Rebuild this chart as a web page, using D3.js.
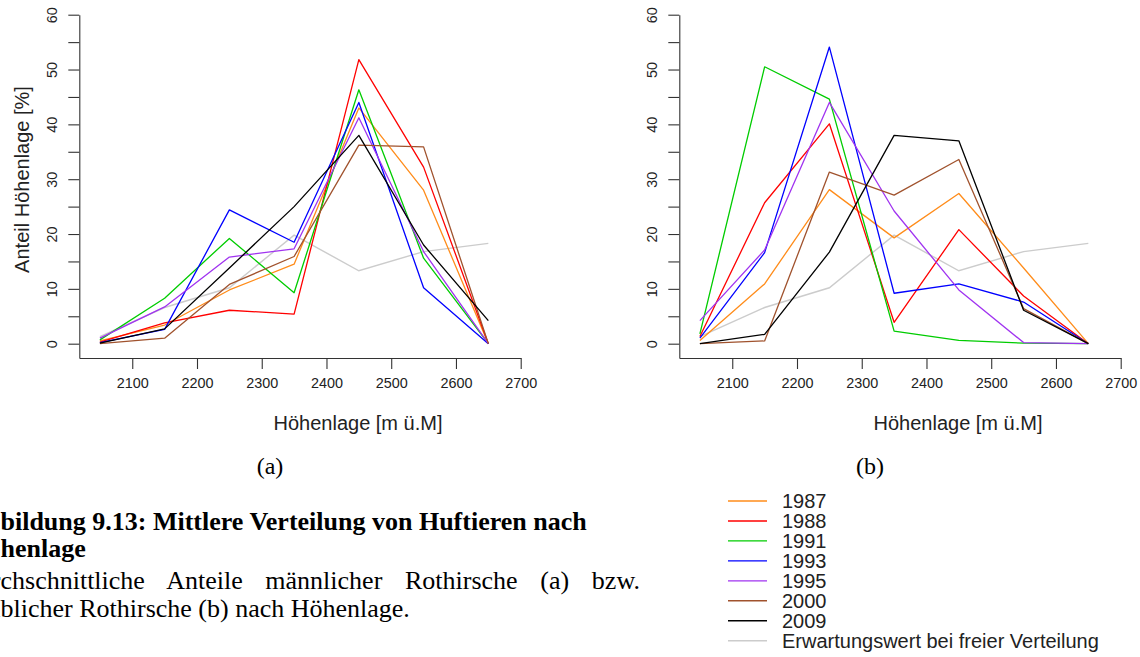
<!DOCTYPE html>
<html>
<head>
<meta charset="utf-8">
<script src="https://cdnjs.cloudflare.com/ajax/libs/d3/7.8.5/d3.min.js"></script>
<style>
body { margin: 0; background: #fff; }
svg text { font-family: "Liberation Sans", Arial, sans-serif; }
</style>
</head>
<body>
<div id="chart"></div>
<script>
// Höhenstufen (Mitte der 100 m Klassen)
var hoehen = [2050, 2150, 2250, 2350, 2450, 2550, 2650]
var jahre = ["1987", "1988", "1991", "1993", "1995", "2000", "2009"]
var farben = ["#ff8c1a", "#ff0000", "#00cc00", "#0000ff", "#a033f0", "#a0522d", "#000000"]
var erwartungFarbe = "#cccccc"
var erwartungLabel = "Erwartungswert bei freier Verteilung"

var xTicks = [2100, 2200, 2300, 2400, 2500, 2600, 2700]
var yTicks = [0, 5, 10, 15, 20, 25, 30, 35, 40, 45, 50, 55, 60]

// (a) männliche Rothirsche, Anteil [%]
var m1987 = [0.5, 3.4, 9.8, 14.5, 43.0, 28.0, 0]
var m1988 = [0.3, 3.8, 6.1, 5.4, 51.8, 32.2, 0]
var m1991 = [0.7, 8.3, 19.2, 9.3, 46.3, 15.6, 0]
var m1993 = [0.2, 2.6, 24.4, 18.5, 44.0, 10.2, 0]
var m1995 = [1.0, 6.7, 15.8, 17.3, 41.2, 16.8, 0]
var m2000 = [0, 1.0, 10.8, 15.9, 36.2, 35.9, 0]
var m2009 = [0.1, 2.7, 13.8, 25.0, 38.0, 18.0, 4.2]

// (b) weibliche Rothirsche, Anteil [%]
var w1987 = [0.6, 10.9, 28.1, 19.3, 27.4, 13.8, 0]
var w1988 = [1.3, 25.7, 40.1, 3.9, 20.8, 8.7, 0]
var w1991 = [1.8, 50.5, 44.6, 2.3, 0.6, 0.1, 0]
var w1993 = [1.0, 16.6, 54.1, 9.2, 10.9, 7.6, 0]
var w1995 = [4.2, 17.1, 44.0, 24.2, 9.8, 0.2, 0]
var w2000 = [0, 0.5, 31.3, 27.1, 33.6, 6.4, 0]
var w2009 = [0, 1.7, 16.7, 38.0, 37.0, 6.1, 0]

// Erwartungswert bei freier Verteilung (gleich in beiden Grafiken)
var erwartung = [1.3, 6.6, 10.2, 19.8, 13.3, 16.8, 18.3]

var maennlich = [m1987, m1988, m1991, m1993, m1995, m2000, m2009]
var weiblich = [w1987, w1988, w1991, w1993, w1995, w2000, w2009]

var caption1 = "Abbildung 9.13: Mittlere Verteilung von Huftieren nach"
var caption2 = "Höhenlage"
var caption3 = "Durchschnittliche Anteile männlicher Rothirsche (a) bzw."
var caption4 = "weiblicher Rothirsche (b) nach Höhenlage."

function init() {
    var w = 1140
    var h = 657

    var svg = d3.select("#chart")
                .append("svg")
                .attr("width", w)
                .attr("height", h)

    panel(svg, 0, "(a)", maennlich, true)
    panel(svg, 600, "(b)", weiblich, false)
    legend(svg)
    caption(svg)

    function panel(svg, dx, tag, reihen, yTitel) {
        var x = d3.scaleLinear().domain([2018.2, 2700]).range([79.3 + dx, 520.7 + dx])
        var y = d3.scaleLinear().domain([-2.61, 60]).range([358, 14.7])

        var g = svg.append("g")

        var xAxis = g.append("g")
            .attr("transform", "translate(0,358)")
            .call(d3.axisBottom(x).tickValues(xTicks).tickSize(11).tickSizeOuter(0).tickPadding(9)
                .tickFormat(d3.format("d")))
        var yAxis = g.append("g")
            .attr("transform", `translate(${79.3 + dx},0)`)
            .call(d3.axisLeft(y).tickValues(yTicks).tickSize(11).tickSizeOuter(0)
                .tickFormat(d => d % 10 === 0 ? d : ""))

        ;[xAxis, yAxis].forEach(a => {
            a.select(".domain").attr("stroke", "#333").attr("stroke-width", 1.1)
            a.selectAll(".tick line").attr("stroke", "#333").attr("stroke-width", 1.1)
            a.selectAll("text")
                .style("font-family", '"Liberation Sans", Arial, sans-serif')
                .style("font-size", "14.4px")
                .attr("fill", "#222")
        })
        yAxis.selectAll(".tick text")
            .attr("transform", "rotate(-90)")
            .attr("x", 0)
            .attr("y", -27)
            .attr("dy", "0.35em")
            .attr("text-anchor", "middle")

        var line = d3.line()
            .x((d, i) => x(hoehen[i]))
            .y(d => y(d))

        g.append("path")
            .attr("d", line(erwartung))
            .attr("fill", "none")
            .attr("stroke", erwartungFarbe)
            .attr("stroke-width", 1.4)

        g.selectAll(".reihe")
            .data(reihen)
            .enter()
            .append("path")
            .attr("class", "reihe")
            .attr("d", d => line(d))
            .attr("fill", "none")
            .attr("stroke", (d, i) => farben[i])
            .attr("stroke-width", 1.3)
            .attr("stroke-linejoin", "round")

        g.append("text")
            .text("Höhenlage [m ü.M]")
            .attr("x", 358 + dx)
            .attr("y", 423)
            .attr("dy", "0.35em")
            .attr("text-anchor", "middle")
            .style("font-size", "20px")
            .attr("fill", "#222")

        if (yTitel) {
            g.append("text")
                .text("Anteil Höhenlage [%]")
                .attr("transform", "translate(21.7,179.5) rotate(-90)")
                .attr("dy", "0.35em")
                .attr("text-anchor", "middle")
                .style("font-size", "20px")
                .attr("fill", "#222")
        }

        g.append("text")
            .text(tag)
            .attr("x", 270 + dx)
            .attr("y", 466)
            .attr("dy", "0.33em")
            .attr("text-anchor", "middle")
            .style("font-family", '"Liberation Serif", "Times New Roman", serif')
            .style("font-size", "24px")
            .attr("fill", "#000")
    }

    function legend(svg) {
        var eintraege = jahre.concat([erwartungLabel])
        var cols = farben.concat([erwartungFarbe])
        var row = d3.scaleLinear().domain([0, 7]).range([501, 640.7])

        var lg = svg.append("g")
        lg.selectAll("line")
            .data(eintraege)
            .enter()
            .append("line")
            .attr("x1", 728)
            .attr("x2", 767)
            .attr("y1", (d, i) => row(i))
            .attr("y2", (d, i) => row(i))
            .attr("stroke", (d, i) => cols[i])
            .attr("stroke-width", 1.4)
        lg.selectAll("text")
            .data(eintraege)
            .enter()
            .append("text")
            .text(d => d)
            .attr("x", 782)
            .attr("y", (d, i) => row(i))
            .attr("dy", "0.36em")
            .style("font-size", "20px")
            .attr("fill", "#222")
    }

    function caption(svg) {
        var serif = '"Liberation Serif", "Times New Roman", serif'
        var rechts = 640
        var zeilen = [
            {t: caption1, y: 530, bold: true, cut: 2},
            {t: caption2, y: 557, bold: true, cut: 2},
            {t: caption3, y: 589, bold: false, cut: 3, justify: true},
            {t: caption4, y: 617, bold: false, cut: 3}
        ]
        zeilen.forEach(z => {
            var t = svg.append("text")
                .text(z.t)
                .attr("x", 0)
                .attr("y", z.y)
                .style("font-family", serif)
                .style("font-size", "26px")
                .style("font-weight", z.bold ? "bold" : "normal")
                .attr("fill", "#000")
            var off = t.node().getSubStringLength(0, z.cut)
            var start = -off + 0.5
            t.attr("x", start)
            if (z.justify) {
                var natur = t.node().getComputedTextLength()
                var luecken = z.t.split(" ").length - 1
                t.style("word-spacing", ((rechts - start - natur) / luecken) + "px")
            }
        })
    }
}

window.onload = init;
</script>
</body>
</html>
